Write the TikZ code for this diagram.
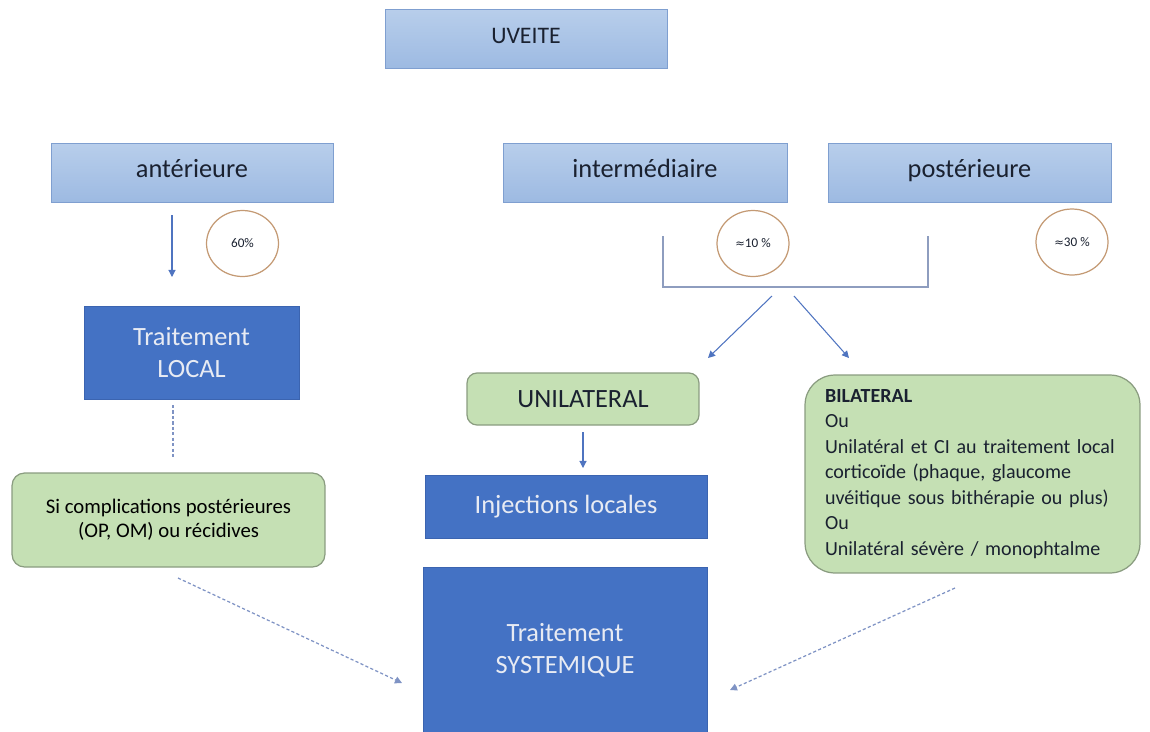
\documentclass[tikz,border=0pt]{standalone}
\usepackage{fontspec}
\setmainfont{Carlito}
\newfontfamily\symf{DejaVu Sans}
\usetikzlibrary{arrows.meta,shapes.geometric}
\definecolor{lightbluetop}{HTML}{B8CEEB}
\definecolor{lightbluebot}{HTML}{9DBAE2}
\definecolor{lightborder}{HTML}{7F9FD0}
\definecolor{darkblue}{HTML}{4472C4}
\definecolor{darkborder}{HTML}{3B64B0}
\definecolor{greenfill}{HTML}{C5E0B4}
\definecolor{greenborder}{HTML}{8A9C80}
\definecolor{circborder}{HTML}{C49A74}
\definecolor{arrowblue}{HTML}{4F74C0}
\definecolor{dashblue}{HTML}{7F93C4}
\definecolor{bracketcol}{HTML}{8E9DBF}
\definecolor{textdark}{HTML}{1A2130}
\definecolor{textlight}{HTML}{E8EBF3}
\begin{document}
\begin{tikzpicture}[x=0.02cm,y=-0.02cm,
  lightbox/.style={draw=lightborder, line width=0.5pt, top color=lightbluetop, bottom color=lightbluebot,
    text=textdark, minimum height=1.18cm, inner sep=0pt, text height=1.6ex, text depth=0.4ex,
    font=\fontsize{15}{18}\selectfont},
  darkbox/.style={draw=darkborder, line width=0.5pt, fill=darkblue, text=textlight, align=center,
    inner sep=0pt, font=\fontsize{15}{18}\selectfont},
  greenbox/.style={draw=greenborder, line width=0.7pt, fill=greenfill, text=textdark,
    rounded corners=0.25cm, inner sep=0pt},
  pct/.style={ellipse, draw=circborder, line width=0.7pt, fill=white, text=textdark,
    minimum width=1.44cm, minimum height=1.32cm, inner sep=0pt, font=\fontsize{7.5}{9}\selectfont},
  arr/.style={draw=arrowblue, line width=0.6pt, -{Triangle[length=4pt,width=4pt]}},
  dasharr/.style={draw=dashblue, line width=0.7pt, dash pattern=on 1.8pt off 1.3pt, -{Triangle[length=4pt,width=4pt]}},
  dashln/.style={draw=dashblue, line width=0.7pt, dash pattern=on 1.8pt off 1.3pt},
  brk/.style={draw=bracketcol, line width=0.6pt}]
\useasboundingbox (0,0) rectangle (1150,731);

% top level
\node[lightbox, minimum width=5.64cm, font=\fontsize{13.5}{15}\selectfont] (uveite) at (526,38.5) {UVEITE};
\node[lightbox, minimum width=5.64cm] (ant) at (192,172.5) {antérieure};
\node[lightbox, minimum width=5.68cm] (inter) at (645,172.5) {intermédiaire};
\node[lightbox, minimum width=5.66cm] (post) at (969.5,172.5) {postérieure};

% percentages
\node[pct] (p60) at (242.5,243.5) {60\%};
\node[pct] (p10) at (753,243.5) {{\symf\fontsize{6.5}{8}\selectfont ≈}10 \%};
\node[pct] (p30) at (1072,242) {{\symf\fontsize{6.5}{8}\selectfont ≈}30 \%};

% treatment boxes
\node[darkbox, minimum width=4.3cm, minimum height=1.86cm] (local) at (191.5,352.5) {Traitement\\LOCAL};
\node[darkbox, minimum width=5.64cm, minimum height=1.26cm] (inj) at (566,506.5) {Injections locales};
\node[darkbox, minimum width=5.68cm, minimum height=3.32cm] (sys) at (565,650) {Traitement\\SYSTEMIQUE};

% green boxes
\node[greenbox, minimum width=6.26cm, minimum height=1.88cm, align=center, text=black,
  font=\fontsize{11.8}{13.8}\selectfont] (comp) at (168.5,520) {Si complications postérieures\\(OP, OM) ou récidives};
\node[greenbox, minimum width=4.64cm, minimum height=1.04cm, rounded corners=0.2cm,
  font=\fontsize{15}{18}\selectfont] (uni) at (583,399) {UNILATERAL};
\node[greenbox, text width=5.9cm, inner xsep=0.4cm, minimum height=3.96cm, align=left, rounded corners=0.6cm,
  font=\fontsize{11.4}{14.5}\selectfont] (bil) at (972.5,474)
  {\textbf{BILATERAL}\\Ou\\Unilatéral et CI au traitement local\\corticoïde (phaque, glaucome\\uvéitique sous bithérapie ou plus)\\Ou\\Unilatéral sévère / monophtalme};

% connector end points
\coordinate (a1s) at (172,215);
\coordinate (a1e) at (172,277);
\coordinate (d1s) at (173,405);
\coordinate (d1e) at (173,457);
\coordinate (bl) at (663,236);
\coordinate (br) at (928,236);
\coordinate (bb) at (928,287);
\coordinate (b1s) at (772,296);
\coordinate (b1e) at (708,358);
\coordinate (b2s) at (794,296);
\coordinate (b2e) at (849,358);
\coordinate (u1s) at (583,432);
\coordinate (u1e) at (583,468);
\coordinate (l1s) at (178,578);
\coordinate (l1e) at (402,683);
\coordinate (r1s) at (955,588);
\coordinate (r1e) at (730,690);

% connectors
\draw[arr] (a1s) -- (a1e);
\draw[dashln] (d1s) -- (d1e);
\draw[brk] (bl) |- (bb) -- (br);
\draw[arr] (b1s) -- (b1e);
\draw[arr] (b2s) -- (b2e);
\draw[arr] (u1s) -- (u1e);
\draw[dasharr] (l1s) -- (l1e);
\draw[dasharr] (r1s) -- (r1e);
\end{tikzpicture}
\end{document}
